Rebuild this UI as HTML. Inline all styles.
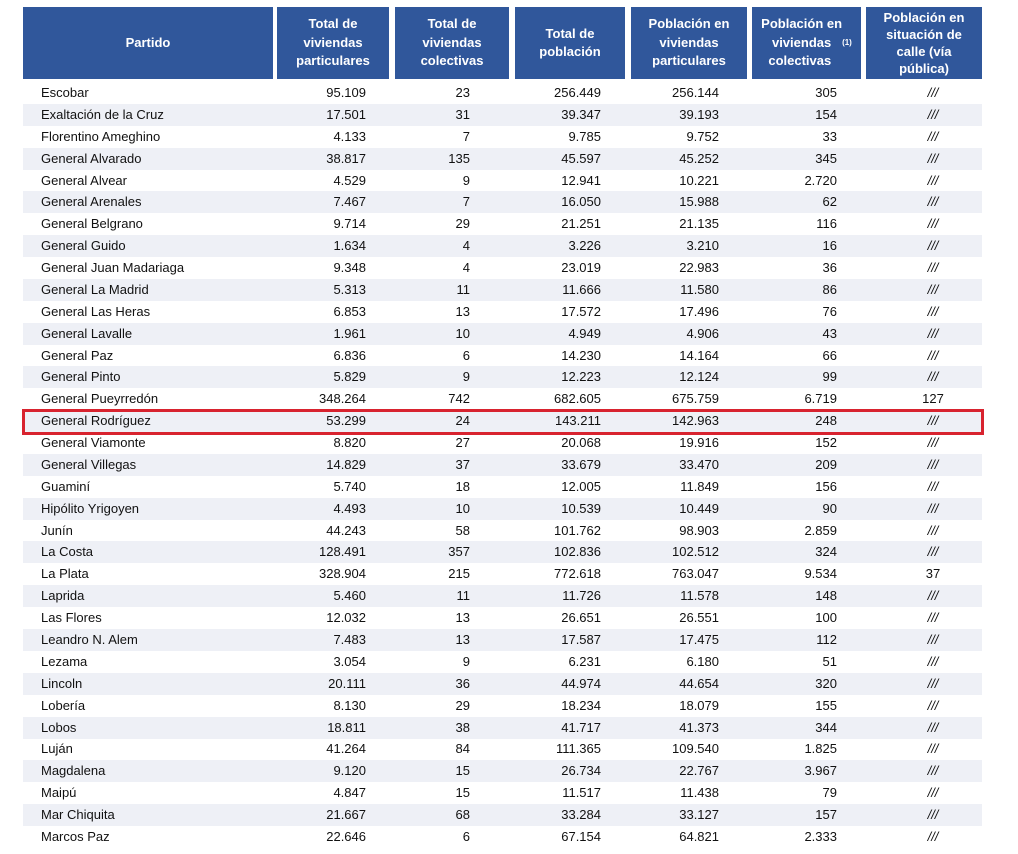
<!DOCTYPE html>
<html><head><meta charset="utf-8"><style>
body{margin:0;width:1018px;height:854px;background:#fff;font-family:"Liberation Sans",Arial,sans-serif;position:relative;overflow:hidden}
.h{position:absolute;top:7px;height:72px;background:#30579b;color:#fff;font-weight:bold;font-size:13px;line-height:18.5px;display:flex;align-items:center;justify-content:center;text-align:center}
.r{position:absolute;left:23px;width:959px;height:22px;font-size:13px;color:#111;line-height:22px}
.r.s{background:#eef0f6}
.r span{position:absolute;top:0}
.n{left:18px}
.c2,.c3,.c4,.c5,.c6{text-align:right}
.c2{right:616px}.c3{right:512px}.c4{right:381px}.c5{right:263px}.c6{right:145px}
.c7{left:843px;width:134px;text-align:center}
.i{font-style:italic}
#box{position:absolute;left:22px;top:409px;width:956px;height:20px;border:3px solid #d8232f}
</style></head><body>
<div class="h" style="left:23px;width:250px">Partido</div>
<div class="h" style="left:277px;width:112px">Total de<br>viviendas<br>particulares</div>
<div class="h" style="left:395px;width:114px">Total de<br>viviendas<br>colectivas</div>
<div class="h" style="left:515px;width:110px">Total de<br>población</div>
<div class="h" style="left:631px;width:116px">Población en<br>viviendas<br>particulares</div>
<div class="h" style="left:752px;width:109px">Población en<br>viviendas<br>colectivas&nbsp;<sup style="font-size:8px">(1)</sup></div>
<div class="h" style="left:866px;width:116px;line-height:17px">Población en<br>situación de<br>calle (vía<br>pública)</div>
<div id="rows"></div>
<div id="box"></div>
<script>
var d=[["Escobar","95.109","23","256.449","256.144","305","///"],
["Exaltación de la Cruz","17.501","31","39.347","39.193","154","///"],
["Florentino Ameghino","4.133","7","9.785","9.752","33","///"],
["General Alvarado","38.817","135","45.597","45.252","345","///"],
["General Alvear","4.529","9","12.941","10.221","2.720","///"],
["General Arenales","7.467","7","16.050","15.988","62","///"],
["General Belgrano","9.714","29","21.251","21.135","116","///"],
["General Guido","1.634","4","3.226","3.210","16","///"],
["General Juan Madariaga","9.348","4","23.019","22.983","36","///"],
["General La Madrid","5.313","11","11.666","11.580","86","///"],
["General Las Heras","6.853","13","17.572","17.496","76","///"],
["General Lavalle","1.961","10","4.949","4.906","43","///"],
["General Paz","6.836","6","14.230","14.164","66","///"],
["General Pinto","5.829","9","12.223","12.124","99","///"],
["General Pueyrredón","348.264","742","682.605","675.759","6.719","127"],
["General Rodríguez","53.299","24","143.211","142.963","248","///"],
["General Viamonte","8.820","27","20.068","19.916","152","///"],
["General Villegas","14.829","37","33.679","33.470","209","///"],
["Guaminí","5.740","18","12.005","11.849","156","///"],
["Hipólito Yrigoyen","4.493","10","10.539","10.449","90","///"],
["Junín","44.243","58","101.762","98.903","2.859","///"],
["La Costa","128.491","357","102.836","102.512","324","///"],
["La Plata","328.904","215","772.618","763.047","9.534","37"],
["Laprida","5.460","11","11.726","11.578","148","///"],
["Las Flores","12.032","13","26.651","26.551","100","///"],
["Leandro N. Alem","7.483","13","17.587","17.475","112","///"],
["Lezama","3.054","9","6.231","6.180","51","///"],
["Lincoln","20.111","36","44.974","44.654","320","///"],
["Lobería","8.130","29","18.234","18.079","155","///"],
["Lobos","18.811","38","41.717","41.373","344","///"],
["Luján","41.264","84","111.365","109.540","1.825","///"],
["Magdalena","9.120","15","26.734","22.767","3.967","///"],
["Maipú","4.847","15","11.517","11.438","79","///"],
["Mar Chiquita","21.667","68","33.284","33.127","157","///"],
["Marcos Paz","22.646","6","67.154","64.821","2.333","///"]];
var h="";d.forEach(function(r,i){var t=82+i*21.88;
h+='<div class="r'+(i%2?' s':'')+'" style="top:'+t+'px"><span class="n">'+r[0]+'</span>';
for(var k=1;k<7;k++)h+='<span class="c'+(k+1)+(k==6&&r[k]=="///"?' i':'')+'">'+r[k]+'</span>';h+='</div>';});
document.getElementById("rows").innerHTML=h;
</script>
</body></html>
